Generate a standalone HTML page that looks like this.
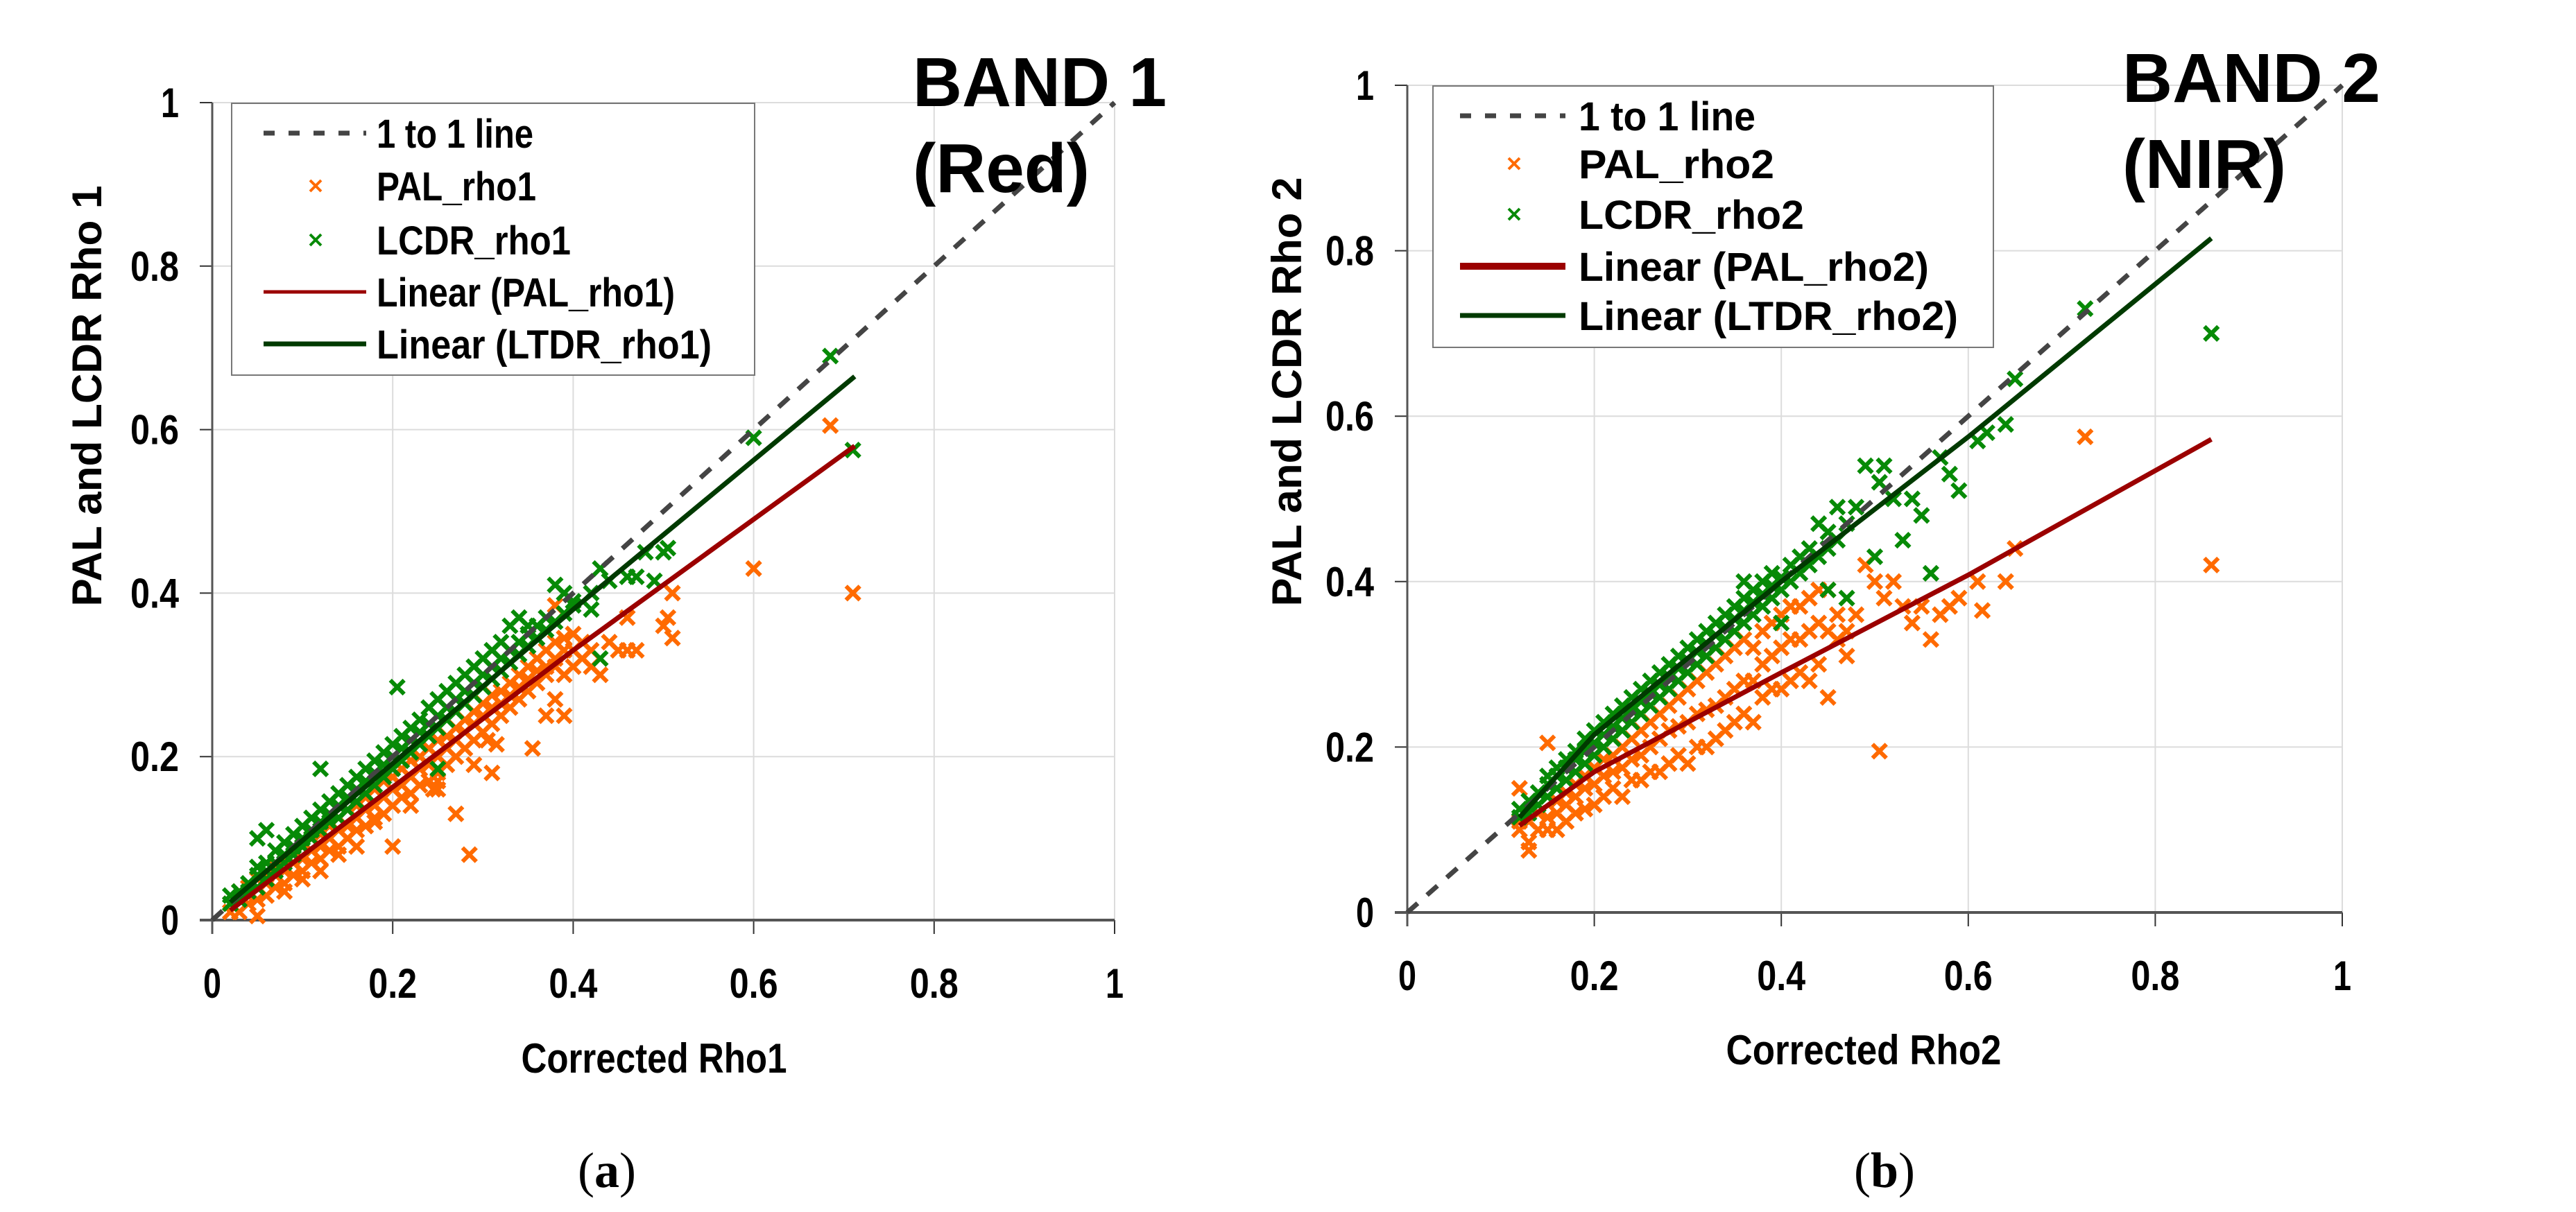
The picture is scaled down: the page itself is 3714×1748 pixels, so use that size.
<!DOCTYPE html>
<html><head><meta charset="utf-8"><style>
html,body{margin:0;padding:0;background:#fff;}
svg{display:block;font-family:"Liberation Sans",Arial,sans-serif;}
.tk{font-weight:bold;font-size:60px;fill:#000;}
.ttl{font-weight:bold;font-size:60px;fill:#000;}
.lg{font-weight:bold;font-size:58px;fill:#000;}
.band{font-weight:bold;font-size:100px;fill:#000;}
.cap{font-family:"Liberation Serif",serif;font-size:72px;fill:#000;}
</style></head><body>
<svg id="fig" width="3714" height="1748" viewBox="0 0 3714 1748">
<g id="pa"></g>
<g id="pb"></g>
<text class="cap" x="875" y="1712" text-anchor="middle">(<tspan font-weight="bold">a</tspan>)</text>
<text class="cap" x="2717" y="1712" text-anchor="middle">(<tspan font-weight="bold">b</tspan>)</text>
</svg>
<script>
const ticks=[0,0.2,0.4,0.6,0.8,1];
const tickLabels=["0","0.2","0.4","0.6","0.8","1"];
// Band 1 (Red) - [x,y] pairs
const pal1=[0.02,0.01,0.02,0.02,0.03,0.01,0.03,0.025,0.03,0.035,0.04,0.02,0.04,0.03,0.04,0.04,0.05,0.025,0.05,0.04,0.05,0.05,0.05,0.005,0.06,0.03,0.06,0.045,0.06,0.055,0.07,0.04,0.07,0.055,0.07,0.065,0.08,0.045,0.08,0.06,0.08,0.075,0.08,0.035,0.09,0.055,0.09,0.07,0.09,0.085,0.1,0.06,0.1,0.075,0.1,0.09,0.1,0.05,0.11,0.07,0.11,0.085,0.11,0.1,0.12,0.075,0.12,0.09,0.12,0.105,0.12,0.06,0.13,0.085,0.13,0.1,0.13,0.115,0.14,0.09,0.14,0.11,0.14,0.125,0.14,0.08,0.15,0.1,0.15,0.115,0.15,0.135,0.16,0.11,0.16,0.125,0.16,0.14,0.16,0.09,0.17,0.115,0.17,0.135,0.17,0.15,0.18,0.125,0.18,0.14,0.18,0.16,0.18,0.12,0.19,0.13,0.19,0.15,0.19,0.17,0.2,0.14,0.2,0.16,0.2,0.175,0.2,0.09,0.21,0.15,0.21,0.165,0.21,0.185,0.22,0.155,0.22,0.175,0.22,0.195,0.22,0.14,0.23,0.165,0.23,0.185,0.23,0.2,0.24,0.17,0.24,0.19,0.24,0.21,0.25,0.18,0.25,0.2,0.25,0.22,0.25,0.16,0.26,0.19,0.26,0.21,0.26,0.225,0.27,0.2,0.27,0.22,0.27,0.235,0.27,0.13,0.28,0.21,0.28,0.23,0.28,0.245,0.29,0.22,0.29,0.24,0.29,0.255,0.29,0.19,0.3,0.23,0.3,0.25,0.3,0.265,0.31,0.24,0.31,0.26,0.31,0.275,0.31,0.18,0.32,0.25,0.32,0.265,0.32,0.28,0.33,0.26,0.33,0.275,0.33,0.29,0.34,0.27,0.34,0.285,0.34,0.3,0.35,0.28,0.35,0.295,0.35,0.31,0.36,0.29,0.36,0.305,0.36,0.32,0.37,0.3,0.37,0.31,0.37,0.33,0.38,0.31,0.38,0.32,0.38,0.34,0.38,0.385,0.39,0.3,0.39,0.33,0.39,0.345,0.4,0.31,0.4,0.33,0.4,0.35,0.41,0.32,0.41,0.34,0.42,0.31,0.42,0.33,0.285,0.08,0.245,0.16,0.25,0.17,0.305,0.22,0.315,0.215,0.355,0.21,0.37,0.25,0.39,0.25,0.38,0.27,0.43,0.3,0.45,0.33,0.47,0.33,0.44,0.34,0.46,0.33,0.5,0.36,0.51,0.345,0.505,0.37,0.51,0.4,0.6,0.43,0.685,0.605,0.71,0.4,0.46,0.37];
const ltdr1=[0.02,0.02,0.02,0.03,0.03,0.025,0.03,0.035,0.04,0.035,0.04,0.045,0.05,0.04,0.05,0.055,0.05,0.065,0.05,0.1,0.06,0.05,0.06,0.06,0.06,0.07,0.06,0.11,0.07,0.06,0.07,0.07,0.07,0.085,0.08,0.07,0.08,0.08,0.08,0.095,0.09,0.08,0.09,0.09,0.09,0.105,0.1,0.09,0.1,0.1,0.1,0.115,0.11,0.1,0.11,0.11,0.11,0.125,0.12,0.11,0.12,0.12,0.12,0.135,0.12,0.185,0.13,0.12,0.13,0.13,0.13,0.145,0.14,0.125,0.14,0.14,0.14,0.155,0.15,0.135,0.15,0.15,0.15,0.165,0.16,0.145,0.16,0.16,0.16,0.175,0.17,0.155,0.17,0.17,0.17,0.185,0.18,0.165,0.18,0.18,0.18,0.195,0.19,0.175,0.19,0.19,0.19,0.205,0.2,0.185,0.2,0.2,0.2,0.215,0.205,0.285,0.21,0.195,0.21,0.21,0.21,0.225,0.22,0.205,0.22,0.22,0.22,0.235,0.23,0.215,0.23,0.23,0.23,0.245,0.24,0.225,0.24,0.24,0.24,0.26,0.25,0.235,0.25,0.25,0.25,0.27,0.25,0.185,0.26,0.245,0.26,0.26,0.26,0.28,0.27,0.255,0.27,0.27,0.27,0.29,0.28,0.265,0.28,0.28,0.28,0.3,0.29,0.275,0.29,0.29,0.29,0.31,0.3,0.285,0.3,0.3,0.3,0.32,0.31,0.295,0.31,0.31,0.31,0.33,0.32,0.305,0.32,0.32,0.32,0.34,0.33,0.315,0.33,0.33,0.33,0.36,0.34,0.325,0.34,0.34,0.34,0.37,0.35,0.335,0.35,0.35,0.35,0.36,0.36,0.345,0.36,0.36,0.37,0.355,0.37,0.37,0.38,0.365,0.38,0.41,0.39,0.375,0.39,0.4,0.4,0.385,0.4,0.39,0.42,0.38,0.42,0.4,0.43,0.43,0.43,0.32,0.44,0.415,0.46,0.42,0.47,0.42,0.48,0.45,0.49,0.415,0.5,0.45,0.505,0.455,0.6,0.59,0.685,0.69,0.71,0.575];
// Band 2 (NIR)
const pal2=[0.12,0.15,0.12,0.1,0.12,0.11,0.13,0.085,0.13,0.075,0.13,0.11,0.14,0.1,0.14,0.12,0.15,0.1,0.15,0.115,0.15,0.205,0.16,0.1,0.16,0.12,0.16,0.135,0.17,0.11,0.17,0.13,0.17,0.145,0.18,0.12,0.18,0.14,0.18,0.155,0.19,0.125,0.19,0.15,0.19,0.165,0.2,0.13,0.2,0.155,0.2,0.175,0.21,0.14,0.21,0.165,0.21,0.185,0.22,0.15,0.22,0.17,0.22,0.19,0.23,0.14,0.23,0.175,0.23,0.2,0.24,0.16,0.24,0.185,0.24,0.21,0.25,0.16,0.25,0.19,0.25,0.22,0.26,0.17,0.26,0.2,0.26,0.23,0.27,0.17,0.27,0.21,0.27,0.24,0.28,0.18,0.28,0.22,0.28,0.25,0.29,0.19,0.29,0.225,0.29,0.26,0.3,0.18,0.3,0.23,0.3,0.27,0.31,0.2,0.31,0.24,0.31,0.28,0.32,0.2,0.32,0.245,0.32,0.29,0.33,0.21,0.33,0.25,0.33,0.3,0.34,0.22,0.34,0.26,0.34,0.31,0.35,0.23,0.35,0.27,0.35,0.32,0.36,0.24,0.36,0.28,0.36,0.33,0.37,0.23,0.37,0.28,0.37,0.32,0.38,0.26,0.38,0.3,0.38,0.34,0.39,0.27,0.39,0.31,0.39,0.35,0.4,0.27,0.4,0.32,0.4,0.36,0.41,0.28,0.41,0.33,0.41,0.37,0.42,0.29,0.42,0.33,0.42,0.37,0.43,0.28,0.43,0.34,0.43,0.38,0.44,0.3,0.44,0.35,0.44,0.39,0.45,0.26,0.45,0.34,0.45,0.39,0.46,0.33,0.46,0.36,0.47,0.31,0.47,0.34,0.48,0.36,0.49,0.42,0.5,0.4,0.505,0.195,0.51,0.38,0.52,0.4,0.53,0.37,0.54,0.35,0.55,0.37,0.56,0.33,0.57,0.36,0.58,0.37,0.59,0.38,0.61,0.4,0.615,0.365,0.64,0.4,0.65,0.44,0.725,0.575,0.86,0.42];
const ltdr2=[0.12,0.115,0.12,0.125,0.13,0.12,0.13,0.135,0.14,0.13,0.14,0.145,0.15,0.14,0.15,0.155,0.15,0.165,0.16,0.15,0.16,0.165,0.16,0.175,0.17,0.16,0.17,0.175,0.17,0.185,0.18,0.17,0.18,0.185,0.18,0.195,0.19,0.18,0.19,0.195,0.19,0.21,0.2,0.19,0.2,0.205,0.2,0.22,0.21,0.2,0.21,0.215,0.21,0.23,0.22,0.21,0.22,0.225,0.22,0.24,0.23,0.22,0.23,0.235,0.23,0.25,0.24,0.23,0.24,0.245,0.24,0.26,0.25,0.24,0.25,0.255,0.25,0.27,0.26,0.25,0.26,0.265,0.26,0.28,0.27,0.26,0.27,0.275,0.27,0.29,0.28,0.27,0.28,0.285,0.28,0.3,0.29,0.28,0.29,0.295,0.29,0.31,0.3,0.29,0.3,0.305,0.3,0.32,0.31,0.3,0.31,0.315,0.31,0.33,0.32,0.31,0.32,0.325,0.32,0.34,0.33,0.32,0.33,0.335,0.33,0.35,0.34,0.33,0.34,0.345,0.34,0.36,0.35,0.34,0.35,0.355,0.35,0.37,0.36,0.35,0.36,0.365,0.36,0.38,0.36,0.4,0.37,0.36,0.37,0.375,0.37,0.39,0.38,0.37,0.38,0.385,0.38,0.4,0.39,0.38,0.39,0.395,0.39,0.41,0.4,0.39,0.4,0.405,0.4,0.35,0.41,0.4,0.41,0.42,0.42,0.41,0.42,0.43,0.43,0.42,0.43,0.44,0.44,0.43,0.44,0.47,0.45,0.44,0.45,0.46,0.45,0.39,0.46,0.45,0.46,0.49,0.47,0.38,0.47,0.47,0.48,0.49,0.49,0.54,0.5,0.43,0.505,0.52,0.51,0.54,0.52,0.5,0.53,0.45,0.54,0.5,0.55,0.48,0.56,0.41,0.57,0.55,0.58,0.53,0.59,0.51,0.61,0.57,0.62,0.58,0.64,0.59,0.65,0.645,0.725,0.73,0.86,0.7];
// regression trend lines: [x,y] vertices
const fitPal1=[0.02,0.012,0.4,0.33,0.712,0.58];
const fitLtdr1=[0.02,0.022,0.4,0.38,0.712,0.665];
const fitPal2=[0.12,0.105,0.2,0.17,0.4,0.29,0.6,0.408,0.86,0.572];
const fitLtdr2=[0.12,0.115,0.2,0.215,0.4,0.4,0.6,0.575,0.86,0.815];

const NS="http://www.w3.org/2000/svg";
function mk(p,tag,a){const e=document.createElementNS(NS,tag);for(const k in a)e.setAttribute(k,a[k]);p.appendChild(e);return e;}
function fit(t,w){t.setAttribute('textLength',w);t.setAttribute('lengthAdjust','spacingAndGlyphs');}

function panel(g,cfg){
  const X=v=>cfg.x0+v*(cfg.x1-cfg.x0);
  const Y=v=>cfg.y0-v*(cfg.y0-cfg.y1);
  ticks.forEach((t,i)=>{
    if(t>0){
      const gx=mk(g,'line',{x1:X(t),x2:X(t),y1:Y(0),y2:Y(1),stroke:'#dcdcdc','stroke-width':2});
      
      
      const gy=mk(g,'line',{x1:X(0),x2:X(1),y1:Y(t),y2:Y(t),stroke:'#dcdcdc','stroke-width':2});
      
      
    }
    const tx=mk(g,'line',{x1:X(t),x2:X(t),y1:Y(0),y2:Y(0)+20,stroke:'#333','stroke-width':2});
    
    
    const ty=mk(g,'line',{x1:X(0)-18,x2:X(0),y1:Y(t),y2:Y(t),stroke:'#333','stroke-width':2});
    
    
    const lx=mk(g,'text',{class:'tk',x:X(t),y:Y(0)+112,'text-anchor':'middle'});lx.textContent=tickLabels[i];
    fit(lx,tickLabels[i].length>1?70:26);
    
    
    const ly=mk(g,'text',{class:'tk',x:X(0)-48,y:Y(t)+21,'text-anchor':'end'});ly.textContent=tickLabels[i];
    fit(ly,tickLabels[i].length>1?70:26);
    
    
  });
  const ax=mk(g,'line',{x1:X(0)-18,x2:X(1),y1:Y(0),y2:Y(0),stroke:'#555','stroke-width':4});
  
  
  const ay=mk(g,'line',{x1:X(0),x2:X(0),y1:Y(0)+20,y2:Y(1),stroke:'#555','stroke-width':3});
  
  
  function pts(arr,col,name){
    for(let i=0;i<arr.length;i+=2){
      const cx=X(arr[i]),cy=Y(arr[i+1]),s=10;
      const p=mk(g,'path',{d:`M${cx-s},${cy-s}L${cx+s},${cy+s}M${cx+s},${cy-s}L${cx-s},${cy+s}`,stroke:col,'stroke-width':6,fill:'none'});
      
      
    }
  }
  pts(cfg.pal,'#ff6a00',cfg.palName);
  pts(cfg.ltdr,'#078a07',cfg.ltdrName);
  const d=mk(g,'line',{x1:X(0),y1:Y(0),x2:X(1),y2:Y(1),stroke:'#444','stroke-width':7,'stroke-dasharray':'20 18'});
  
  
  function poly(arr,col,name){
    let p=[];for(let i=0;i<arr.length;i+=2)p.push(X(arr[i])+','+Y(arr[i+1]));
    const l=mk(g,'polyline',{points:p.join(' '),stroke:col,'stroke-width':7,fill:'none'});
    
    
  }
  poly(cfg.fp,'#9b0000','linear-pal');
  poly(cfg.fl,'#003a00','linear-ltdr');
  const L=cfg.leg;
  const lb=mk(g,'rect',{x:L.x,y:L.y,width:L.w,height:L.h,fill:'#fff',stroke:'#777','stroke-width':2});
  
  
  L.rows.forEach((r,i)=>{
    const cy=L.ys[i];
    if(i==0){const s=mk(g,'line',{x1:L.lx0,x2:L.lx1,y1:cy,y2:cy,stroke:'#444','stroke-width':7,'stroke-dasharray':'16 20'});}
    else if(i<3){const c=i==1?'#ff6a00':'#078a07';const m=L.mx;const s=mk(g,'path',{d:`M${m-8},${cy-8}L${m+8},${cy+8}M${m+8},${cy-8}L${m-8},${cy+8}`,stroke:c,'stroke-width':4});}
    else {const s=mk(g,'line',{x1:L.lx0,x2:L.lx1,y1:cy,y2:cy,stroke:i==3?'#9b0000':'#003a00','stroke-width':i==3?L.w3:7});}
    const t=mk(g,'text',{class:'lg',x:L.tx,y:cy+21});t.textContent=r;
    fit(t,L.tw[i]);
    
    
  });
  const xt=mk(g,'text',{class:'ttl',x:cfg.xtx,y:cfg.xty,'text-anchor':'middle'});xt.textContent=cfg.xtitle;
  fit(xt,cfg.xtw);
  
  
  const yt=mk(g,'text',{class:'ttl',x:0,y:0,'text-anchor':'middle',transform:`translate(${cfg.ytx},${cfg.yty}) rotate(-90)`});yt.textContent=cfg.ytitle;
  fit(yt,cfg.ytw);
  
  
  const b1=mk(g,'text',{class:'band',x:cfg.bx,y:cfg.by});b1.textContent=cfg.b1;
  fit(b1,cfg.bw[0]);
  
  
  const b2=mk(g,'text',{class:'band',x:cfg.bx,y:cfg.by+124});b2.textContent=cfg.b2;
  fit(b2,cfg.bw[1]);
  
  
}
panel(document.getElementById('pa'),{x0:306,x1:1607,y0:1327,y1:148,pal:pal1,ltdr:ltdr1,palName:'pal-rho1-point',ltdrName:'lcdr-rho1-point',fp:fitPal1,fl:fitLtdr1,
 leg:{x:334,y:149,w:754,h:392,lx0:380,lx1:528,mx:455,w3:5,tx:543,ys:[192,268,346,421,496],tw:[226,230,280,430,483],rows:['1 to 1 line','PAL_rho1','LCDR_rho1','Linear (PAL_rho1)','Linear (LTDR_rho1)']},
 xtitle:'Corrected Rho1',xtx:943,xty:1547,xtw:383,ytitle:'PAL and LCDR Rho 1',ytx:146,yty:571,ytw:607,b1:'BAND 1',b2:'(Red)',bx:1316,by:153,bw:[366,255]});
panel(document.getElementById('pb'),{x0:2029,x1:3377,y0:1316,y1:123,pal:pal2,ltdr:ltdr2,palName:'pal-rho2-point',ltdrName:'lcdr-rho2-point',fp:fitPal2,fl:fitLtdr2,
 leg:{x:2066,y:124,w:808,h:377,lx0:2105,lx1:2257,mx:2183,w3:10,tx:2276,ys:[167,236,309,384,455],tw:[255,282,325,505,547],rows:['1 to 1 line','PAL_rho2','LCDR_rho2','Linear (PAL_rho2)','Linear (LTDR_rho2)']},
 xtitle:'Corrected Rho2',xtx:2687,xty:1535,xtw:397,ytitle:'PAL and LCDR Rho 2',ytx:1876,yty:565,ytw:619,b1:'BAND 2',b2:'(NIR)',bx:3060,by:147,bw:[372,236]});
</script>
</body></html>
